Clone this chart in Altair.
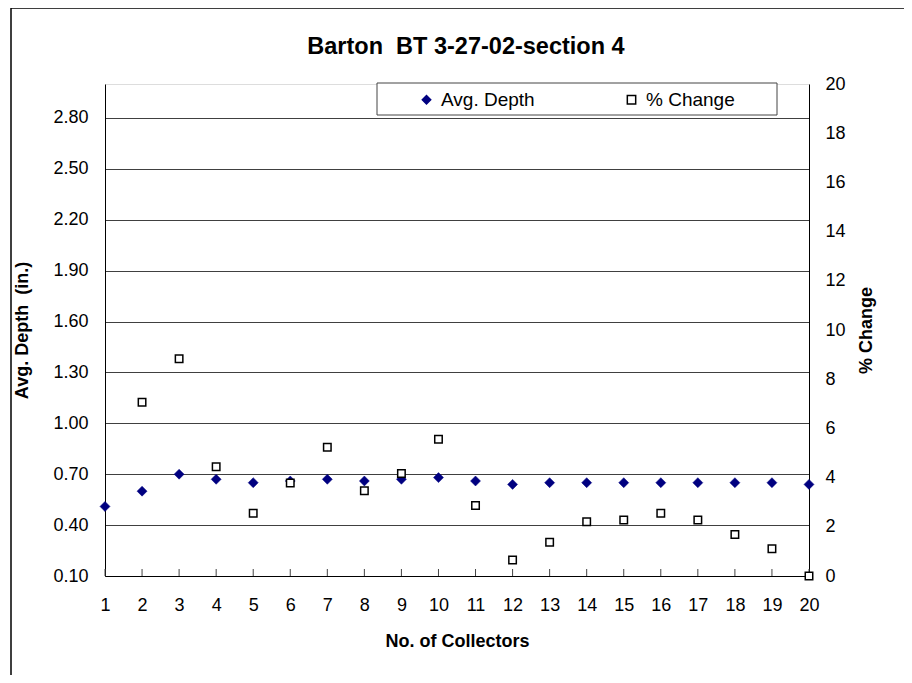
import altair as alt
import pandas as pd

FONT = "Liberation Sans"

collectors = list(range(1, 21))
avg_depth = [0.51, 0.60, 0.70, 0.67, 0.65, 0.66, 0.67, 0.66, 0.67, 0.68,
             0.66, 0.64, 0.65, 0.65, 0.65, 0.65, 0.65, 0.65, 0.65, 0.64]
pct_change = [None, 7.06, 8.83, 4.44, 2.55, 3.78, 5.23, 3.47, 4.17, 5.56,
              2.87, 0.65, 1.37, 2.21, 2.28, 2.55, 2.28, 1.69, 1.11, 0.0]
left_ticks = [0.10, 0.40, 0.70, 1.00, 1.30, 1.60, 1.90, 2.20, 2.50, 2.80]
right_ticks = [0, 2, 4, 6, 8, 10, 12, 14, 16, 18, 20]
x_ticks = collectors
series_order = ["Avg. Depth", "% Change"]
title_text = "Barton\u00a0 BT 3-27-02-section 4"
left_title = "Avg. Depth\u00a0 (in.)"

rows = []
for c, v in zip(collectors, avg_depth):
    rows.append({"collector": c, "series": "Avg. Depth", "value": v})
for c, v in zip(collectors, pct_change):
    if v is not None:
        rows.append({"collector": c, "series": "% Change", "value": v})
df = pd.DataFrame(rows)
ticks_df = pd.DataFrame({"collector": x_ticks})
one = pd.DataFrame({"a": [0]})

W, H = 704, 492

legend = alt.Legend(
    title=None, orient="none", legendX=312, legendY=6, direction="horizontal",
    labelFont=FONT, labelFontSize=19, labelColor="#000", columnPadding=87,
    labelOffset=5, symbolSize=70, symbolStrokeWidth=1.5, padding=0,
)
shape_enc = alt.Shape("series:N", scale=alt.Scale(domain=series_order, range=["diamond", "square"]), legend=legend)
fill_enc = alt.Fill("series:N", scale=alt.Scale(domain=series_order, range=["#000080", "#ffffff"]), legend=legend)
stroke_enc = alt.Stroke("series:N", scale=alt.Scale(domain=series_order, range=["#000080", "#000000"]), legend=legend)

x_scale = alt.Scale(domain=[1, 20], nice=False, zero=False)
x_enc = alt.X(
    "collector:Q",
    scale=x_scale,
    axis=alt.Axis(values=x_ticks, ticks=False, grid=False, labelPadding=20, labelOverlap=False,
                  labelFlush=False,
                  title="No. of Collectors", titlePadding=18, domainColor="#000",
                  labelFontSize=18, labelFont=FONT, labelColor="#000",
                  titleFont=FONT, titleFontSize=18, titleFontWeight="bold", titleColor="#000"),
)

frame = alt.Chart(one).mark_rect(fill=None, stroke="#000", strokeWidth=1.5).encode(
    x=alt.value(-94), x2=alt.value(1000), y=alt.value(-76), y2=alt.value(800)
)
title = alt.Chart(one).mark_text(
    text=title_text, font=FONT, fontSize=23.5, fontWeight="bold", color="#000",
    align="center", baseline="alphabetic"
).encode(x=alt.value(361), y=alt.value(-30))
legend_box = alt.Chart(one).mark_rect(fill="#fff", stroke="#444", strokeWidth=1).encode(
    x=alt.value(272), x2=alt.value(672), y=alt.value(-1), y2=alt.value(31)
)

depth = alt.Chart(df).transform_filter(alt.datum.series == "Avg. Depth").mark_point(
    filled=True, size=100, strokeWidth=0.5, opacity=1
).encode(
    x=x_enc,
    y=alt.Y("value:Q", scale=alt.Scale(domain=[0.1, 3.0], nice=False, zero=False),
            axis=alt.Axis(values=left_ticks, format=".2f", ticks=False, grid=True,
                          gridColor="#404040", gridWidth=1, domainColor="#000",
                          labelPadding=17, labelFontSize=18, labelFont=FONT, labelColor="#000",
                          title=left_title, titlePadding=21, titleFont=FONT,
                          titleFontSize=18, titleFontWeight="bold", titleColor="#000")),
    shape=shape_enc, fill=fill_enc, stroke=stroke_enc,
)

xticks = alt.Chart(ticks_df).mark_rule(color="#444", strokeWidth=1).encode(
    x=x_enc,
    y=alt.value(H - 7), y2=alt.value(H),
)

pct = alt.Chart(df).transform_filter(alt.datum.series == "% Change").mark_point(
    filled=True, size=56, strokeWidth=1.5, opacity=1
).encode(
    x=x_enc,
    y=alt.Y("value:Q", scale=alt.Scale(domain=[0, 20], nice=False, zero=False),
            axis=alt.Axis(orient="right", values=right_ticks, ticks=False, grid=False,
                          domainColor="#000", labelPadding=16, labelFontSize=18,
                          labelFont=FONT, labelColor="#000", title="% Change",
                          titlePadding=30, titleAngle=270, titleFont=FONT, titleFontSize=18,
                          titleFontWeight="bold", titleColor="#000")),
    shape=shape_enc, fill=fill_enc, stroke=stroke_enc,
)

chart = alt.layer(frame, title, legend_box, depth, xticks, pct).resolve_scale(
    y="independent"
).properties(
    width=W, height=H,
    padding={"left": 97, "top": 76, "right": 95, "bottom": 99},
    autosize=alt.AutoSizeParams(type="none"),
).configure_view(stroke="#666", strokeWidth=1).configure_axis(
    labelOverlap=False, labelFlush=False
).configure(background="#fff")

chart.save("out.html", embed_options={"renderer": "svg", "actions": False})
